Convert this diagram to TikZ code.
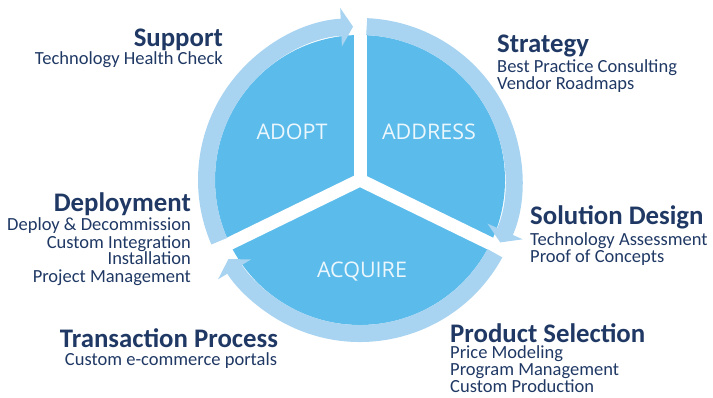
\documentclass[tikz,border=0pt]{standalone}
\usepackage{fontspec}
\setmainfont{Carlito}
\newfontfamily\discfont{Open Sans}
\usetikzlibrary{arrows.meta}
\definecolor{navy}{RGB}{31,56,100}
\definecolor{discblue}{RGB}{91,188,235}
\definecolor{ringblue}{RGB}{168,212,241}
\definecolor{disctext}{RGB}{236,247,253}

\begin{document}
\begin{tikzpicture}[x=1pt, y=1pt, inner sep=0pt,
  head/.style={font=\fontsize{26.8}{27}\selectfont\bfseries, text=navy},
  sub/.style={font=\fontsize{18.5}{17}\selectfont, text=navy},
  phase/.style={font=\discfont\fontsize{21.5}{22}\selectfont, text=disctext},
  ring/.style={draw=ringblue, line width=17pt, -{Triangle[width=38pt, length=12pt]}}]
\useasboundingbox (0,0) rectangle (713,397);

% the wheel
\coordinate (c) at (360,217);
\fill[discblue] (c) circle (145);
\foreach \a in {90,-26,206}
  \draw[white, line width=13pt] (c) -- ++(\a:150);

\draw[ring, shift={(c)}] (203.5:153.5) arc[start angle=203.5, end angle=92.6, radius=153.5];
\draw[ring, shift={(c)}] (87.5:153.5) arc[start angle=87.5, end angle=-24, radius=153.5];
\draw[ring, shift={(c)}] (-28.5:153.5) arc[start angle=-28.5, end angle=-149, radius=153.5];

\node[phase, anchor=base] (adopt) at (292,257) {ADOPT};
\node[phase, anchor=base] (address) at (429,257) {ADDRESS};
\node[phase, anchor=base] (acquire) at (362,120) {ACQUIRE};

% left side
\node[head, anchor=base east] (support) at (223,350) {Support};
\node[sub, anchor=base east] (supportsub) at (223,332) {Technology Health Check};

\node[head, anchor=base east] (deploy) at (191,185) {Deployment};
\node[sub, anchor=base east, align=right] (deploysub) at (191,115) {Deploy \& Decommission\\Custom Integration\\Installation\\Project Management};

\node[head, anchor=base] (trans) at (169,50) {Transaction Process};
\node[sub, anchor=base] (transsub) at (171,32) {Custom e-commerce portals};

% right side
\node[head, anchor=base west] (strategy) at (497,344) {Strategy};
\node[sub, anchor=base west, align=left] (strategysub) at (497,307) {Best Practice Consulting\\Vendor Roadmaps};

\node[head, anchor=base west] (solution) at (530,172) {Solution Design};
\node[sub, anchor=base west, align=left] (solutionsub) at (530,135) {Technology Assessment\\Proof of Concepts};

\node[head, anchor=base west] (product) at (450,55) {Product Selection};
\node[sub, anchor=base west, align=left] (productsub) at (450,5) {Price Modeling\\Program Management\\Custom Production};

\end{tikzpicture}
\end{document}
